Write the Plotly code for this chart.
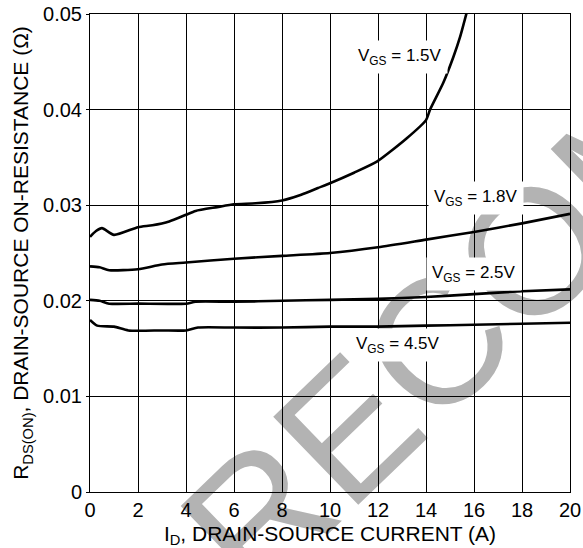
import plotly.graph_objects as go

# ---- data ----
id_15 = [0, 0.25, 0.5, 1.0, 2.0, 2.6, 3.3, 4.0, 4.4, 5.3, 6.0, 6.9, 8.0, 8.8, 9.5, 10, 11, 11.95, 13.2, 14,
         14.17, 14.72, 15.14, 15.42, 15.69]
r_15 = [0.0267, 0.0273, 0.0276, 0.0269, 0.0277, 0.0279, 0.0283, 0.0290, 0.0294, 0.0298, 0.0301, 0.0302, 0.0305,
        0.0311, 0.0318, 0.0323, 0.0334, 0.03455, 0.0370, 0.0389, 0.0400, 0.0428, 0.0455, 0.0476, 0.0501]

id_18 = [0, 0.4, 0.8, 2, 3, 4, 6, 8, 10, 12, 14, 16, 18, 20]
r_18 = [0.0236, 0.0235, 0.0232, 0.0233, 0.0238, 0.0240, 0.0244, 0.0247, 0.0250, 0.0256, 0.0264, 0.0272, 0.0281, 0.0291]

id_25 = [0, 0.4, 0.8, 2, 4, 4.4, 6, 8, 10, 12, 14, 16, 18, 20]
r_25 = [0.0201, 0.0200, 0.0197, 0.0197, 0.0197, 0.0199, 0.0199, 0.0200, 0.0201, 0.0202, 0.0204, 0.0207, 0.0210, 0.0212]

id_45 = [0, 0.3, 1, 1.6, 3, 4, 4.5, 6, 8, 10, 12, 14, 16, 18, 20]
r_45 = [0.0180, 0.0174, 0.0173, 0.0169, 0.0169, 0.0169, 0.0172, 0.0172, 0.0172, 0.0173, 0.0173, 0.0174, 0.0175,
        0.0176, 0.0177]

label_text = ["V<sub>GS</sub> = 1.5V", "V<sub>GS</sub> = 1.8V", "V<sub>GS</sub> = 2.5V", "V<sub>GS</sub> = 4.5V"]
label_x = [12.9, 16.1, 16.0, 12.85]
label_y = [0.0455, 0.03075, 0.0228, 0.01538]

x_ticks = [0, 2, 4, 6, 8, 10, 12, 14, 16, 18, 20]
y_ticks = [0, 0.01, 0.02, 0.03, 0.04, 0.05]
y_ticktext = ["0", "0.01", "0.02", "0.03", "0.04", "0.05"]

FONT = "Arial, Liberation Sans, sans-serif"

fig = go.Figure()
for xs, ys in [(id_15, r_15), (id_18, r_18), (id_25, r_25), (id_45, r_45)]:
    fig.add_trace(go.Scatter(x=xs, y=ys, mode="lines",
                             line=dict(color="black", width=2.6, shape="spline", smoothing=0.6),
                             showlegend=False, hoverinfo="skip"))

for t, xx, yy in zip(label_text, label_x, label_y):
    fig.add_annotation(x=xx, y=yy, xref="x", yref="y", text=t, showarrow=False,
                       font=dict(family=FONT, size=17, color="black"),
                       bgcolor="white", borderpad=5)

# watermark
fig.add_shape(type="rect", xref="paper", yref="paper", x0=1.2, x1=1.41, y0=0.85, y1=1.0,
              line=dict(width=0), fillcolor="rgba(0,0,0,0)", layer="below",
              label=dict(text="RECOMMENDED", textangle=-44, textposition="middle center",
                         font=dict(family=FONT, size=178, color="#b3b3b3")))

fig.update_layout(
    width=583, height=548,
    margin=dict(l=90, r=13, t=14, b=56, autoexpand=False),
    paper_bgcolor="white", plot_bgcolor="rgba(0,0,0,0)",
    font=dict(family=FONT, color="black"),
    showlegend=False,
)
fig.update_xaxes(range=[0, 20], tickvals=x_ticks, ticktext=[str(v) for v in x_ticks],
                 showgrid=True, gridcolor="black", gridwidth=1,
                 showline=True, linecolor="black", linewidth=1, mirror=True,
                 ticks="", tickfont=dict(size=20, family=FONT, color="black"),
                 zeroline=False, automargin=False, ticklabeloverflow="allow",
                 title=dict(text="I<sub>D</sub>, DRAIN-SOURCE CURRENT (A)",
                            font=dict(size=21, family=FONT, color="black")))
fig.update_yaxes(range=[0, 0.05], tickvals=y_ticks, ticktext=y_ticktext,
                 showgrid=True, gridcolor="black", gridwidth=1,
                 showline=True, linecolor="black", linewidth=1, mirror=True,
                 ticks="outside", ticklen=3, tickcolor="black",
                 tickfont=dict(size=20, family=FONT, color="black"),
                 zeroline=False, automargin=False, ticklabeloverflow="allow",
                 title=dict(text="R<sub>DS(ON)</sub>, DRAIN-SOURCE ON-RESISTANCE (Ω)",
                            font=dict(size=21, family=FONT, color="black"), standoff=8))

# remove the default 8px page margin so the figure fills the window exactly
fig.write_html("out.html", config={"displayModeBar": False},
               post_script="document.body.style.margin='0';document.body.style.overflow='hidden';")
